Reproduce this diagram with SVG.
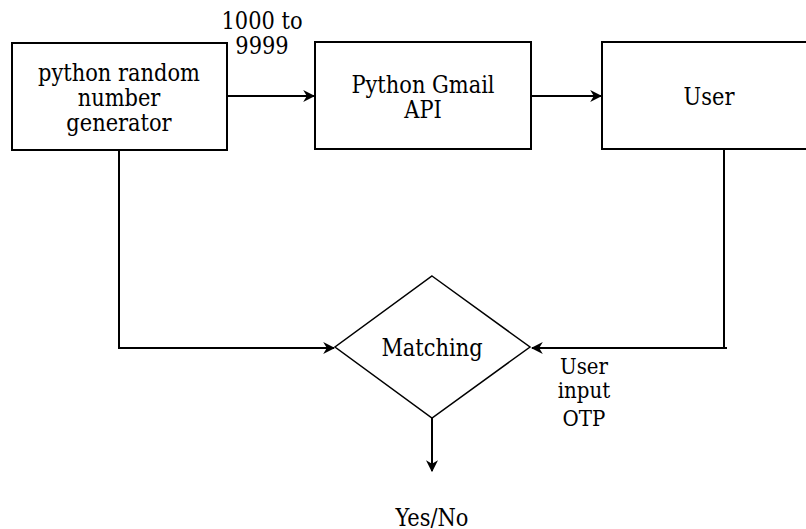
<svg xmlns="http://www.w3.org/2000/svg" width="806" height="529" viewBox="0 0 806 529">
<style>
text{font-family:"DejaVu Serif Condensed","DejaVu Serif",serif;font-stretch:condensed;font-size:23.3px;fill:#000;text-anchor:middle;dominant-baseline:central}
.s{font-size:22px}
.n{fill:#fff;stroke:#000;stroke-width:2}
.c{fill:none;stroke:#000;stroke-width:2}
</style>
<defs>
<marker id="a" viewBox="0 0 10 10" refX="9" refY="5" markerWidth="12" markerHeight="12" markerUnits="userSpaceOnUse" orient="auto">
<path d="M0,0 L10,5 L0,10 L3,5 Z" fill="#000"/>
</marker>
</defs>
<rect width="806" height="529" fill="#fff"/>
<g id="connectors">
<path class="c" d="M227,96 H314" marker-end="url(#a)"/>
<path class="c" d="M531,96 H601" marker-end="url(#a)"/>
<path class="c" d="M119,150 V348 H334" marker-end="url(#a)"/>
<path class="c" d="M724,147 V348 M727,348 H532" marker-end="url(#a)"/>
<path class="c" d="M432,418 V471" marker-end="url(#a)"/>
</g>
<g id="n1"><rect class="n" x="12" y="43" width="215" height="107"/>
<text x="119" y="72">python random</text><text x="119" y="97">number</text><text x="119" y="122">generator</text></g>
<g id="n2"><rect class="n" x="315" y="42" width="216" height="107"/>
<text x="423" y="84">Python Gmail</text><text x="423" y="109">API</text></g>
<g id="n3"><rect class="n" x="602" y="42" width="210" height="107"/>
<text x="709" y="96">User</text></g>
<g id="n4"><polygon class="n" style="stroke-width:1.5" points="432,276 530,347 432,418 335,347"/>
<text x="432" y="347">Matching</text></g>
<text x="262" y="20">1000 to</text><text x="262" y="45">9999</text>
<text class="s" x="584" y="366">User</text><text class="s" x="584" y="390">input</text><text class="s" x="584" y="418">OTP</text>
<text x="432" y="517">Yes/No</text>
</svg>
